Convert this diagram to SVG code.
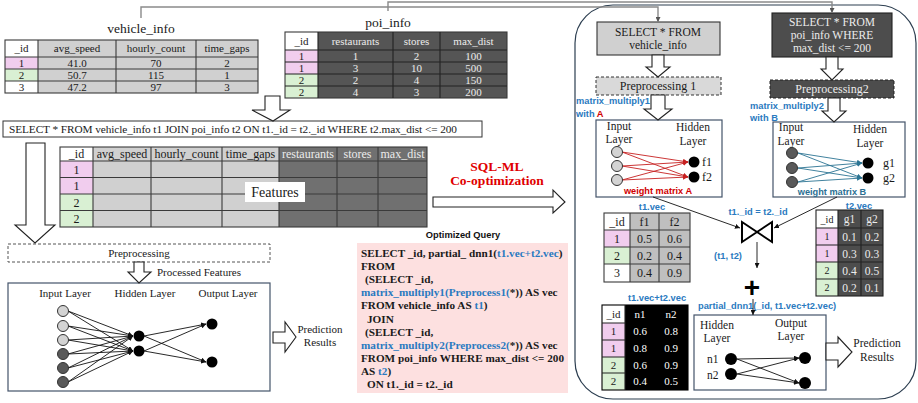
<svg xmlns="http://www.w3.org/2000/svg" width="918" height="403" viewBox="0 0 918 403">
<style>
.s{font-family:"Liberation Serif","Times New Roman",serif;fill:#1a1a1a}
.sb{font-family:"Liberation Serif","Times New Roman",serif;font-weight:bold;fill:#1a1a1a}
.a{font-family:"Liberation Sans",Arial,sans-serif;font-weight:bold}
.c{text-anchor:middle}
.blue{fill:#2a7ac0}
.red{fill:#d00000}
.teal{fill:#2b6f93}
.lt{fill:#ececec}
.grid{fill:none;stroke:#3a3a3a;stroke-width:1.1}
.box{fill:#fff;stroke:#44546a;stroke-width:1.2}
.harrow{fill:#fff;stroke:#222;stroke-width:1.1}
.edge{stroke:#111;stroke-width:0.9;marker-end:url(#ah)}
.redge{stroke:#c62020;stroke-width:0.9;marker-end:url(#ahr)}
.tedge{stroke:#2b7493;stroke-width:0.9;marker-end:url(#aht)}
.nl{fill:#d3d3d3;stroke:#333;stroke-width:1}
.nd{fill:#595959;stroke:#333;stroke-width:1}
.nb{fill:#000}
.pink{fill:#f1cdee}
.green{fill:#d9f0d3}
</style>
<defs>
<marker id="ah" viewBox="0 0 10 10" refX="10" refY="5" markerWidth="5" markerHeight="5" orient="auto" markerUnits="userSpaceOnUse"><path d="M0,0 L10,5 L0,10 z" fill="#111"/></marker>
<marker id="ahr" viewBox="0 0 10 10" refX="10" refY="5" markerWidth="5" markerHeight="5" orient="auto" markerUnits="userSpaceOnUse"><path d="M0,0 L10,5 L0,10 z" fill="#c62020"/></marker>
<marker id="aht" viewBox="0 0 10 10" refX="10" refY="5" markerWidth="5" markerHeight="5" orient="auto" markerUnits="userSpaceOnUse"><path d="M0,0 L10,5 L0,10 z" fill="#2b7493"/></marker>
<marker id="ahg" viewBox="0 0 10 10" refX="10" refY="5" markerWidth="5" markerHeight="5" orient="auto" markerUnits="userSpaceOnUse"><path d="M0,0 L10,5 L0,10 z" fill="#555"/></marker>
</defs>

<!-- right container -->
<rect id="optimized_pipeline" x="575" y="5" width="341" height="394" rx="38" fill="none" stroke="#2c3e50" stroke-width="1.2"/>

<g id="vehicle_info">
<text class="s c" x="141" y="33" font-size="13.5">vehicle_info</text>
<rect x="5" y="40" width="33" height="17" fill="#fff"/>
<rect x="38" y="40" width="220" height="53" fill="#d0d0d0"/>
<rect class="pink" x="5" y="57" width="33" height="12"/>
<rect class="green" x="5" y="69" width="33" height="12"/>
<rect x="5" y="81" width="33" height="12" fill="#fff"/>
<rect class="grid" x="5" y="40" width="253" height="53"/>
<path class="grid" d="M38,40V93M116,40V93M196,40V93M5,57H258M5,69H258M5,81H258"/>
<g class="s c" font-size="11">
<text x="21.5" y="52">_id</text><text x="77" y="52">avg_speed</text><text x="156" y="52">hourly_count</text><text x="227" y="52">time_gaps</text>
<text x="21.5" y="67">1</text><text x="77" y="67">41.0</text><text x="156" y="67">70</text><text x="227" y="67">2</text>
<text x="21.5" y="79">2</text><text x="77" y="79">50.7</text><text x="156" y="79">115</text><text x="227" y="79">1</text>
<text x="21.5" y="91">3</text><text x="77" y="91">47.2</text><text x="156" y="91">97</text><text x="227" y="91">3</text>
</g>
</g>

<g id="poi_info">
<text class="s c" x="388" y="27" font-size="13.5">poi_info</text>
<rect x="285" y="32" width="33" height="18" fill="#fff"/>
<rect x="318" y="32" width="189" height="66" fill="#555"/>
<rect class="pink" x="285" y="50" width="33" height="24"/>
<rect class="green" x="285" y="74" width="33" height="24"/>
<rect class="grid" x="285" y="32" width="222" height="66" stroke="#222"/>
<path d="M318,32V98M393,32V98M440,32V98M285,50H507M285,62H507M285,74H507M285,86H507" fill="none" stroke="#222" stroke-width="1.1"/>
<g class="s c" font-size="11">
<text x="301.5" y="45">_id</text>
<text x="301.5" y="60">1</text><text x="301.5" y="72">1</text><text x="301.5" y="84">2</text><text x="301.5" y="96">2</text>
</g>
<g class="s c lt" font-size="11">
<text class="lt" x="355.5" y="45">restaurants</text><text class="lt" x="416.5" y="45">stores</text><text class="lt" x="473.5" y="45">max_dist</text>
<text class="lt" x="355.5" y="60">1</text><text class="lt" x="416.5" y="60">2</text><text class="lt" x="473.5" y="60">100</text>
<text class="lt" x="355.5" y="72">3</text><text class="lt" x="416.5" y="72">10</text><text class="lt" x="473.5" y="72">500</text>
<text class="lt" x="355.5" y="84">2</text><text class="lt" x="416.5" y="84">4</text><text class="lt" x="473.5" y="84">150</text>
<text class="lt" x="355.5" y="96">4</text><text class="lt" x="416.5" y="96">3</text><text class="lt" x="473.5" y="96">200</text>
</g>
</g>

<g id="join_query">
<rect x="3" y="121" width="479" height="16" fill="#fff" stroke="#333" stroke-width="1"/>
<text class="s" x="9" y="133" font-size="11.3" textLength="448" lengthAdjust="spacing">SELECT * FROM  vehicle_info t1  JOIN poi_info t2 ON t1._id = t2._id  WHERE t2.max_dist &lt;= 200</text>
</g>

<g id="joined_table">
<rect x="60" y="147" width="33" height="14" fill="#fff"/>
<rect x="93" y="147" width="186" height="80" fill="#d0d0d0"/>
<rect x="279" y="147" width="148" height="80" fill="#707070"/>
<rect class="pink" x="60" y="161" width="33" height="33"/>
<rect class="green" x="60" y="194" width="33" height="33"/>
<rect class="grid" x="60" y="147" width="367" height="80"/>
<path class="grid" d="M93,147V227M151,147V227M222,147V227M279,147V227M337,147V227M378,147V227M60,161H427M60,177.5H427M60,194H427M60,210.5H427"/>
<g class="s c" font-size="12">
<text x="76.5" y="158">_id</text><text x="122" y="158">avg_speed</text><text x="186.5" y="158">hourly_count</text><text x="250.5" y="158">time_gaps</text>
<text class="lt" x="308" y="158">restaurants</text><text class="lt" x="357.5" y="158">stores</text><text class="lt" x="402.5" y="158">max_dist</text>
<text x="76.5" y="173.5">1</text><text x="76.5" y="190">1</text><text x="76.5" y="206.5">2</text><text x="76.5" y="223">2</text>
</g>
<rect x="245" y="182" width="60" height="20" fill="#fff"/>
<text class="s c" x="275" y="197" font-size="14">Features</text>
</g>

<g id="sql_ml_label">
<text class="sb c" x="497" y="171" font-size="13.5" style="fill:#e00000">SQL-ML</text>
<text class="sb c" x="497" y="185" font-size="13.5" style="fill:#e00000">Co-optimization</text>
</g>

<g id="preprocessing">
<rect x="8" y="244" width="262" height="18" fill="#fff" stroke="#555" stroke-width="1" stroke-dasharray="3,2"/>
<text class="s c" x="139" y="256.5" font-size="11">Preprocessing</text>
</g>
<text class="s" x="157" y="276" font-size="11">Processed Features</text>

<g id="nn_full">
<rect class="box" x="8" y="283" width="262" height="108"/>
<g class="s c" font-size="11">
<text x="65" y="297">Input Layer</text><text x="145" y="297">Hidden Layer</text><text x="228" y="297">Output Layer</text>
</g>
<path class="edge" d="M68,311L133,336"/><path class="edge" d="M68,311L133,351"/>
<path class="edge" d="M68,326L133,336"/><path class="edge" d="M68,326L133,351"/>
<path class="edge" d="M68,340L133,336"/><path class="edge" d="M68,340L133,351"/>
<path class="edge" d="M68,354L133,336"/><path class="edge" d="M68,354L133,351"/>
<path class="edge" d="M68,368L133,336"/><path class="edge" d="M68,368L133,351"/>
<path class="edge" d="M68,382L133,336"/><path class="edge" d="M68,382L133,351"/>
<path class="edge" d="M144,336L206,324"/><path class="edge" d="M144,336L206,362"/>
<path class="edge" d="M144,351L206,324"/><path class="edge" d="M144,351L206,362"/>
<circle class="nl" cx="63" cy="311" r="5.5"/><circle class="nl" cx="63" cy="326" r="5.5"/><circle class="nl" cx="63" cy="340" r="5.5"/>
<circle class="nd" cx="63" cy="354" r="5.5"/><circle class="nd" cx="63" cy="368" r="5.5"/><circle class="nd" cx="63" cy="382" r="5.5"/>
<circle class="nb" cx="139" cy="336" r="5.5"/><circle class="nb" cx="139" cy="351" r="5.5"/>
<circle class="nb" cx="212" cy="324" r="5.5"/><circle class="nb" cx="212" cy="362" r="5.5"/>
</g>
<g id="prediction_left">
<text class="s c" x="320" y="333" font-size="11">Prediction</text>
<text class="s c" x="320" y="346" font-size="11">Results</text>
</g>

<g id="optimized_query">
<text class="a c" x="463" y="238" font-size="9.3" fill="#111">Optimized Query</text>
<rect x="357" y="243" width="211" height="150" fill="#fde0e0"/>
<g class="sb" font-size="11.2">
<text x="361" y="257">SELECT _id, partial_ dnn1(<tspan class="blue">t1.vec+t2.vec</tspan>)</text>
<text x="361" y="270.1">FROM</text>
<text x="365" y="283.2">(SELECT _id,</text>
<text x="361" y="296.3"><tspan class="blue">matrix_multiply1(Preprocess1(</tspan>*)) AS vec</text>
<text x="361" y="309.4">FROM vehicle_info AS <tspan class="blue">t1</tspan>)</text>
<text x="367" y="322.5">JOIN</text>
<text x="365" y="335.6">(SELECT _id,</text>
<text x="361" y="348.7"><tspan class="blue">matrix_multiply2(Preprocess2(</tspan>*)) AS vec</text>
<text x="361" y="361.8">FROM poi_info WHERE max_dist &lt;= 200</text>
<text x="361" y="374.9">AS <tspan class="blue">t2</tspan>)</text>
<text x="367" y="388">ON t1._id = t2._id</text>
</g>
</g>

<g id="select_vehicle">
<rect x="597" y="22" width="123" height="33" fill="#d0d0d0" stroke="#333" stroke-width="1.1"/>
<text class="s c" x="658" y="36" font-size="11.5">SELECT * FROM</text>
<text class="s c" x="658" y="49" font-size="11.5">vehicle_info</text>
</g>
<g id="select_poi">
<rect x="772" y="13" width="120" height="44" fill="#4d4d4d" stroke="#222" stroke-width="1.1"/>
<g class="s c" font-size="11.5"><text class="lt" x="832" y="26">SELECT * FROM</text><text class="lt" x="832" y="39">poi_info WHERE</text><text class="lt" x="832" y="52">max_dist &lt;= 200</text></g>
</g>
<g id="preprocessing1">
<rect x="596" y="77" width="125" height="18" fill="#d9d9d9" stroke="#333" stroke-width="1" stroke-dasharray="3,2"/>
<text class="s c" x="658" y="90" font-size="12">Preprocessing 1</text>
</g>
<g id="preprocessing2">
<rect x="770" y="80" width="124" height="18" fill="#4d4d4d" stroke="#222" stroke-width="1" stroke-dasharray="3,2"/>
<text class="s c lt" x="832" y="93" font-size="12">Preprocessing2</text>
</g>
<g id="mm_labels" class="a" font-size="9.3">
<text class="blue" x="576" y="104">matrix_multiply1</text>
<text class="blue" x="576" y="117">with <tspan class="red">A</tspan></text>
<text class="blue" x="750" y="109">matrix_multiply2</text>
<text class="blue" x="750" y="121">with B</text>
</g>

<g id="nn_a">
<rect class="box" x="596" y="120" width="126" height="77"/>
<g class="s c" font-size="11.5">
<text x="619" y="130">Input</text><text x="619" y="143">Layer</text>
<text x="693" y="131">Hidden</text><text x="693" y="145">Layer</text>
</g>
<path class="redge" d="M622,152L688,162"/><path class="redge" d="M622,152L688,177"/>
<path class="redge" d="M622,166L688,162"/><path class="redge" d="M622,166L688,177"/>
<path class="redge" d="M622,180L688,162"/><path class="redge" d="M622,180L688,177"/>
<circle class="nl" cx="617" cy="152" r="5.5"/><circle class="nl" cx="617" cy="166" r="5.5"/><circle class="nl" cx="617" cy="180" r="5.5"/>
<circle class="nb" cx="694" cy="162" r="5.5"/><circle class="nb" cx="694" cy="177" r="5.5"/>
<text class="s" x="702" y="166" font-size="12">f1</text><text class="s" x="702" y="181" font-size="12">f2</text>
<text class="a c red" x="658" y="194" font-size="9.2">weight matrix A</text>
</g>

<g id="nn_b">
<rect class="box" x="773" y="122" width="132" height="75"/>
<g class="s c" font-size="11.5">
<text x="791" y="131">Input</text><text x="791" y="145">Layer</text>
<text x="870" y="133">Hidden</text><text x="870" y="147">Layer</text>
</g>
<path class="tedge" d="M798,153L862,163"/><path class="tedge" d="M798,153L862,178"/>
<path class="tedge" d="M798,168L862,163"/><path class="tedge" d="M798,168L862,178"/>
<path class="tedge" d="M798,182L862,163"/><path class="tedge" d="M798,182L862,178"/>
<circle class="nd" cx="792" cy="153" r="5.5"/><circle class="nd" cx="792" cy="168" r="5.5"/><circle class="nd" cx="792" cy="182" r="5.5"/>
<circle class="nb" cx="868" cy="163" r="5.5"/><circle class="nb" cx="868" cy="178" r="5.5"/>
<text class="s" x="883" y="167" font-size="12">g1</text><text class="s" x="883" y="182" font-size="12">g2</text>
<text class="a c teal" x="832" y="195" font-size="9.2">weight matrix B</text>
</g>

<g id="t1_vec">
<text class="a c blue" x="652" y="210" font-size="9.3">t1.vec</text>
<rect x="604" y="213" width="26" height="17" fill="#fff"/>
<rect x="630" y="213" width="60" height="69" fill="#bfbfbf"/>
<rect class="pink" x="604" y="230" width="26" height="17"/>
<rect class="green" x="604" y="247" width="26" height="17"/>
<rect x="604" y="264" width="26" height="18" fill="#fff"/>
<rect class="grid" x="604" y="213" width="86" height="69"/>
<path class="grid" d="M630,213V282M659,213V282M604,230H690M604,247H690M604,264H690"/>
<g class="s c" font-size="12">
<text x="617" y="226">_id</text><text x="644.5" y="226">f1</text><text x="674.5" y="226">f2</text>
<text x="617" y="243">1</text><text x="644.5" y="243">0.5</text><text x="674.5" y="243">0.6</text>
<text x="617" y="260">2</text><text x="644.5" y="260">0.2</text><text x="674.5" y="260">0.4</text>
<text x="617" y="277">3</text><text x="644.5" y="277">0.4</text><text x="674.5" y="277">0.9</text>
</g>
</g>

<g id="t2_vec">
<text class="a c blue" x="859" y="208.5" font-size="9.3">t2.vec</text>
<rect x="816" y="210" width="22" height="18" fill="#fff"/>
<rect x="838" y="210" width="45" height="86" fill="#4d4d4d"/>
<rect class="pink" x="816" y="228" width="22" height="34"/>
<rect class="green" x="816" y="262" width="22" height="34"/>
<rect x="816" y="210" width="67" height="86" fill="none" stroke="#222" stroke-width="1.1"/>
<path d="M838,210V296M861,210V296M816,228H883M816,245H883M816,262H883M816,279H883" fill="none" stroke="#222" stroke-width="1.1"/>
<g class="s c" font-size="10">
<text x="827" y="223">_id</text><text x="827" y="240">1</text><text x="827" y="257">1</text><text x="827" y="274">2</text><text x="827" y="291">2</text>
</g>
<g class="s c" font-size="11.5">
<text class="lt" x="849.5" y="223">g1</text><text class="lt" x="872" y="223">g2</text>
<text class="lt" x="849.5" y="240.5">0.1</text><text class="lt" x="872" y="240.5">0.2</text>
<text class="lt" x="849.5" y="257.5">0.3</text><text class="lt" x="872" y="257.5">0.3</text>
<text class="lt" x="849.5" y="274.5">0.4</text><text class="lt" x="872" y="274.5">0.5</text>
<text class="lt" x="849.5" y="291.5">0.2</text><text class="lt" x="872" y="291.5">0.1</text>
</g>
</g>

<g id="join_op">
<text class="a c blue" x="758" y="215" font-size="9.3">t1._id = t2._id</text>
<path d="M742,222L772,242L772,222L742,242Z" fill="#fff" stroke="#000" stroke-width="2" stroke-linejoin="miter"/>
<text class="a c blue" x="728" y="259" font-size="9.3">(t1, t2)</text>
</g>
<g id="plus">
<text class="a c" x="752" y="297" font-size="28" fill="#000">+</text>
</g>

<g id="sum_vec">
<text class="a c blue" x="657" y="301" font-size="9.3">t1.vec+t2.vec</text>
<rect x="602" y="305" width="86" height="85" fill="#000"/>
<rect x="602" y="305" width="23" height="18" fill="#fff"/>
<rect class="pink" x="602" y="323" width="23" height="34"/>
<rect class="green" x="602" y="357" width="23" height="33"/>
<rect x="602" y="305" width="86" height="85" fill="none" stroke="#000" stroke-width="1.1"/>
<path d="M602,323H625M602,340H625M602,357H625M602,373H625M625,305V390" fill="none" stroke="#222" stroke-width="1.1"/>
<g class="s c" font-size="11">
<text x="613.5" y="318">_id</text><text x="613.5" y="335">1</text><text x="613.5" y="352">1</text><text x="613.5" y="369">2</text><text x="613.5" y="385">2</text>
<text x="640" y="318" style="fill:#fff">n1</text><text x="671" y="318" style="fill:#fff">n2</text>
<text x="640" y="335" style="fill:#fff">0.6</text><text x="671" y="335" style="fill:#fff">0.8</text>
<text x="640" y="352" style="fill:#fff">0.8</text><text x="671" y="352" style="fill:#fff">0.9</text>
<text x="640" y="369" style="fill:#fff">0.6</text><text x="671" y="369" style="fill:#fff">0.9</text>
<text x="640" y="385" style="fill:#fff">0.4</text><text x="671" y="385" style="fill:#fff">0.5</text>
</g>
</g>

<text id="partial_label" class="a blue" x="698" y="309" font-size="9.3">partial_dnn1(_id, t1.vec+t2.vec)</text>

<g id="nn_partial">
<rect class="box" x="694" y="315" width="132" height="75"/>
<g class="s c" font-size="11.5">
<text x="717" y="329">Hidden</text><text x="717" y="342">Layer</text>
<text x="791" y="327">Output</text><text x="791" y="340">Layer</text>
</g>
<path class="edge" d="M737,359L799,358"/><path class="edge" d="M737,359L799,383"/>
<path class="edge" d="M737,374L799,358"/><path class="edge" d="M737,374L799,383"/>
<circle class="nb" cx="731" cy="359" r="6"/><circle class="nb" cx="731" cy="374" r="6"/>
<circle class="nb" cx="805" cy="358" r="6"/><circle class="nb" cx="805" cy="383" r="6"/>
<text class="s" x="707" y="363" font-size="11.5">n1</text><text class="s" x="707" y="379" font-size="11.5">n2</text>
</g>
<g id="prediction_right">
<text class="s c" x="877" y="347" font-size="11.5">Prediction</text>
<text class="s c" x="877" y="361" font-size="11.5">Results</text>
</g>

<g id="connectors">
<path d="M141,18V7H658V22" fill="none" stroke="#8a8a8a" stroke-width="1.4" marker-end="url(#ahg)"/>
<path d="M388,11V2H832V13" fill="none" stroke="#8a8a8a" stroke-width="1.4" marker-end="url(#ahg)"/>
<polygon class="harrow" points="265,96 280,96 280,110 290,110 273,121 252,110 265,110"/>
<polygon class="harrow" points="26,143 45,143 45,225 55,225 35,243 15,225 26,225"/>
<polygon class="harrow" points="134,262 144,262 144,272 151,272 139,283 128,272 134,272"/>
<polygon class="harrow" points="433,197 553,197 553,190 565,202 553,213 553,207 433,207"/>
<polygon class="harrow" points="273,332 285,332 285,322 296,337 285,352 285,343 273,343"/>
<polygon class="harrow" points="652,55 664,55 664,67 670,67 658,77 646,67 652,67"/>
<polygon class="harrow" points="826,57 838,57 838,69 843,69 832,80 821,69 826,69"/>
<polygon class="harrow" points="651,95 665,95 665,109 672,109 658,120 644,109 651,109"/>
<polygon class="harrow" points="828,98 840,98 840,111 846,111 834,122 822,111 828,111"/>
<polygon class="harrow" points="826,343 838,343 838,337 852,352 838,367 838,360 826,360"/>
<path class="edge" d="M653,197L740,228"/>
<path class="edge" d="M837,197L774,228"/>
<path class="edge" d="M757,242V268"/>
<path class="edge" d="M753,299V315"/>
</g>
</svg>
